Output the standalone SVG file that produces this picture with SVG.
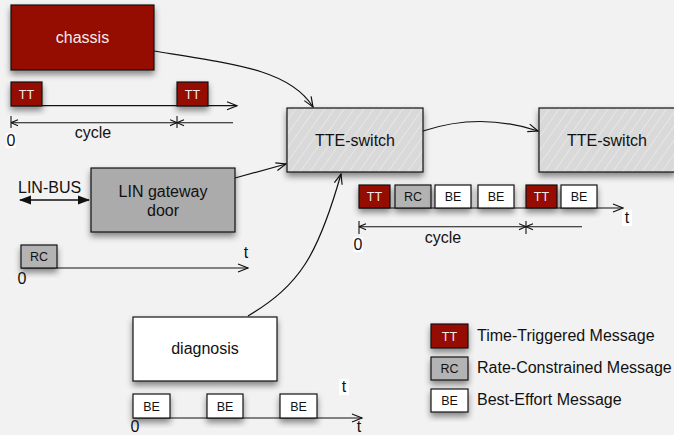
<svg xmlns="http://www.w3.org/2000/svg" width="674" height="435" viewBox="0 0 674 435">
  <defs>
    <style>
      text { font-family: "Liberation Sans", Arial, sans-serif; fill: #111; }
      .box { stroke: #111; stroke-width: 1.2; filter: url(#shadow); }
      .tt { fill: #941100; }
      .rc { fill: #b3b3b3; }
      .be { fill: #ffffff; }
      .gw { fill: #ababab; }
      .sw { fill: url(#hatch); }
      .lbl { font-size: 16px; text-anchor: middle; }
      .light { fill: #f4ecec; }
      .msg { font-size: 12.5px; text-anchor: middle; }
      .leg { font-size: 16px; }
      .axis { fill: none; stroke: #111; stroke-width: 1.2; marker-end: url(#open); }
      .dim { fill: none; stroke: #111; stroke-width: 1.1; }
      .conn path, .conn line { fill: none; stroke: #111; stroke-width: 1.2; marker-end: url(#open); }
      .wbg { fill: #ffffff; }
    </style>
    <filter id="shadow" x="-20%" y="-20%" width="140%" height="160%">
      <feDropShadow dx="0" dy="4" stdDeviation="3" flood-color="#000" flood-opacity="0.45"/>
    </filter>
    <pattern id="hatch" patternUnits="userSpaceOnUse" width="8" height="8" patternTransform="rotate(35)">
      <rect width="8" height="8" fill="#d9d9d9"/>
      <line x1="0" y1="0" x2="0" y2="8" stroke="#ebebeb" stroke-width="1.5"/>
    </pattern>
    <marker id="open" viewBox="0 0 12 10" refX="11" refY="5" markerWidth="12" markerHeight="10" markerUnits="userSpaceOnUse" orient="auto-start-reverse">
      <path d="M1,1 L11,5 L1,9" fill="none" stroke="#111" stroke-width="1.2"/>
    </marker>
    <marker id="dimarr" viewBox="0 0 8 8" refX="7.5" refY="4" markerWidth="8" markerHeight="8" markerUnits="userSpaceOnUse" orient="auto-start-reverse">
      <path d="M0.5,1 L7.5,4 L0.5,7" fill="none" stroke="#111" stroke-width="1.1"/>
    </marker>
    <marker id="solid" viewBox="0 0 12 10" refX="11" refY="5" markerWidth="12" markerHeight="10" markerUnits="userSpaceOnUse" orient="auto-start-reverse">
      <path d="M0,0.5 L12,5 L0,9.5 Z" fill="#111"/>
    </marker>
  </defs>

  <rect width="674" height="435" fill="#f2f2f2"/>

  <!-- connectors -->
  <g id="connectors" class="conn">
    <path d="M154,51 C235,64 290,70 313,107"/>
    <line x1="235" y1="178" x2="286" y2="164"/>
    <path d="M248,316 C300,285 318,255 341,174"/>
    <path d="M423,131 Q480,112 538,131"/>
  </g>

  <!-- chassis node with its TT schedule -->
  <g id="chassis">
    <rect class="box tt" x="11" y="5" width="143" height="65"/>
    <text class="lbl light" x="82.5" y="43">chassis</text>
  </g>
  <g id="chassis-timeline">
    <line class="axis" x1="11" y1="105.7" x2="237" y2="105.7"/>
    <rect class="box tt" x="11" y="82" width="31" height="24"/>
    <text class="msg light" x="26.5" y="98.5">TT</text>
    <rect class="box tt" x="177" y="82" width="31" height="24"/>
    <text class="msg light" x="192.5" y="98.5">TT</text>
    <line class="dim" x1="11" y1="116" x2="11" y2="128"/>
    <line class="dim" x1="177" y1="116" x2="177" y2="128"/>
    <line class="dim" x1="11" y1="122.7" x2="177" y2="122.7" marker-start="url(#dimarr)" marker-end="url(#dimarr)"/>
    <line class="dim" x1="233" y1="122.7" x2="177" y2="122.7" marker-end="url(#dimarr)"/>
    <text class="lbl" x="93" y="138">cycle</text>
    <rect class="wbg" x="6" y="133" width="10" height="15"/>
    <text class="lbl" x="11" y="146">0</text>
  </g>

  <!-- switches -->
  <g id="tte-switch-1">
    <rect class="box sw" x="287" y="108" width="136" height="64"/>
    <text class="lbl" x="355" y="146">TTE-switch</text>
  </g>
  <g id="tte-switch-2">
    <rect class="box sw" x="539" y="108" width="136" height="64"/>
    <text class="lbl" x="607" y="146">TTE-switch</text>
  </g>

  <!-- merged schedule on the switch link -->
  <g id="switch-timeline">
    <line class="axis" x1="359" y1="208" x2="623" y2="208"/>
    <rect class="box tt" x="359" y="185" width="31" height="23"/>
    <text class="msg light" x="374.5" y="201">TT</text>
    <rect class="box rc" x="395" y="185" width="36" height="23"/>
    <text class="msg" x="413" y="201">RC</text>
    <rect class="box be" x="435" y="185" width="36" height="23"/>
    <text class="msg" x="453" y="201">BE</text>
    <rect class="box be" x="478" y="185" width="36" height="23"/>
    <text class="msg" x="496" y="201">BE</text>
    <rect class="box tt" x="526" y="185" width="31" height="23"/>
    <text class="msg light" x="541.5" y="201">TT</text>
    <rect class="box be" x="561" y="185" width="36" height="23"/>
    <text class="msg" x="579" y="201">BE</text>
    <rect class="wbg" x="622" y="210" width="10" height="16"/>
    <text class="lbl" x="627" y="223">t</text>
    <line class="dim" x1="359" y1="221" x2="359" y2="234"/>
    <line class="dim" x1="526" y1="221" x2="526" y2="234"/>
    <line class="dim" x1="359" y1="226.7" x2="526" y2="226.7" marker-start="url(#dimarr)" marker-end="url(#dimarr)"/>
    <line class="dim" x1="582" y1="226.7" x2="526" y2="226.7" marker-end="url(#dimarr)"/>
    <text class="lbl" x="443" y="243">cycle</text>
    <rect class="wbg" x="353" y="237" width="10" height="15"/>
    <text class="lbl" x="358" y="250">0</text>
  </g>

  <!-- LIN gateway -->
  <g id="lin-gateway">
    <rect class="box gw" x="91" y="168" width="144" height="64"/>
    <text class="lbl" x="163" y="197">LIN gateway</text>
    <text class="lbl" x="163" y="216">door</text>
  </g>
  <g id="lin-bus">
    <text class="leg" x="18" y="193">LIN-BUS</text>
    <line x1="20" y1="200" x2="89" y2="200" stroke="#111" stroke-width="1.5" marker-start="url(#solid)" marker-end="url(#solid)"/>
  </g>
  <g id="lin-timeline">
    <line class="axis" x1="21" y1="268" x2="248" y2="268"/>
    <rect class="box rc" x="21" y="245" width="36" height="23"/>
    <text class="msg" x="39" y="261">RC</text>
    <text class="lbl" x="246" y="258">t</text>
    <text class="lbl" x="22" y="284">0</text>
  </g>

  <!-- diagnosis -->
  <g id="diagnosis">
    <rect class="box be" x="133" y="317" width="144" height="64"/>
    <text class="lbl" x="205" y="354">diagnosis</text>
  </g>
  <g id="diagnosis-timeline">
    <line class="axis" x1="133" y1="418" x2="362" y2="418"/>
    <rect class="box be" x="133" y="394" width="37" height="24"/>
    <text class="msg" x="151.5" y="410.5">BE</text>
    <rect class="box be" x="207" y="394" width="36" height="24"/>
    <text class="msg" x="225" y="410.5">BE</text>
    <rect class="box be" x="280" y="394" width="37" height="24"/>
    <text class="msg" x="298.5" y="410.5">BE</text>
    <rect class="wbg" x="339" y="379" width="10" height="16"/>
    <text class="lbl" x="344" y="392">t</text>
    <text class="lbl" x="359" y="432">t</text>
    <text class="lbl" x="135" y="432">0</text>
  </g>

  <!-- legend -->
  <g id="legend">
    <rect class="box tt" x="431" y="324" width="37" height="24"/>
    <text class="msg light" x="449.5" y="340.5">TT</text>
    <text class="leg" x="477" y="341">Time-Triggered Message</text>
    <rect class="box rc" x="431" y="357" width="37" height="23"/>
    <text class="msg" x="449.5" y="373">RC</text>
    <text class="leg" x="477" y="373">Rate-Constrained Message</text>
    <rect class="box be" x="431" y="389" width="37" height="23"/>
    <text class="msg" x="449.5" y="405">BE</text>
    <text class="leg" x="477" y="405">Best-Effort Message</text>
  </g>
</svg>
